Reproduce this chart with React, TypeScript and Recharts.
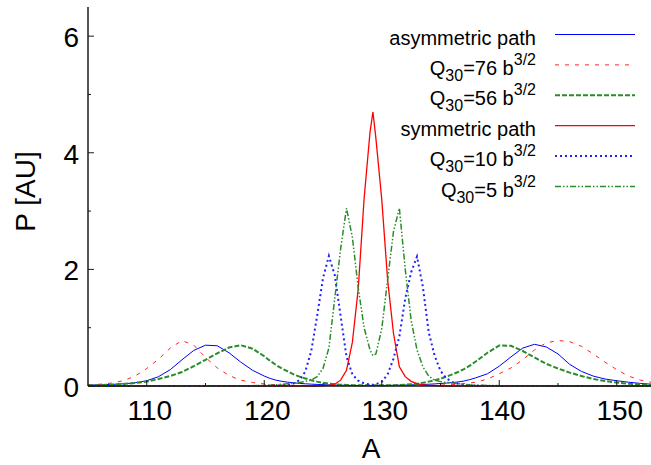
import React from 'react';
import { LineChart, Line, XAxis, YAxis, Legend } from 'recharts';

// Mass number grid (A)
const A = [
  105, 106, 107, 108, 109, 110, 111, 112, 113, 114, 115, 116, 117, 118, 119, 120,
  120.5, 121, 121.5, 122, 122.5, 123, 123.5, 124, 124.5, 125, 125.5, 126, 126.5, 127, 127.5, 128, 128.5, 129,
  129.25,
  129.5, 130, 130.5, 131, 131.5, 132, 132.5, 133, 133.5, 134, 134.5, 135, 135.5, 136, 136.5, 137, 137.5, 138,
  139, 140, 141, 142, 143, 144, 145, 146, 147, 148, 149, 150, 151, 152, 153,
];

// asymmetric path (blue solid)
const asymPath = [
  0.016, 0.02, 0.027, 0.037, 0.055, 0.09, 0.16, 0.28, 0.45, 0.61, 0.70, 0.69, 0.57, 0.41, 0.27, 0.17,
  0.13, 0.10, 0.08, 0.065, 0.055, 0.045, 0.038, 0.032, 0.027, 0.022, 0.019, 0.016, 0.014, 0.012, 0.01, 0.009, 0.008, 0.008,
  0.008,
  0.008, 0.009, 0.01, 0.012, 0.014, 0.016, 0.019, 0.022, 0.026, 0.03, 0.036, 0.043, 0.05, 0.058, 0.07, 0.085, 0.11, 0.14,
  0.21, 0.34, 0.50, 0.65, 0.715, 0.67, 0.55, 0.37, 0.25, 0.17, 0.12, 0.09, 0.065, 0.045, 0.03,
];

// Q30 = 76 b^3/2 (red dashed)
const q76 = [
  0.02, 0.03, 0.05, 0.09, 0.17, 0.30, 0.46, 0.65, 0.78, 0.70, 0.49, 0.31, 0.18, 0.10, 0.06, 0.035,
  0.028, 0.022, 0.018, 0.015, 0.012, 0.01, 0.009, 0.008, 0.007, 0.006, 0.005, 0.005, 0.005, 0.004, 0.004, 0.004, 0.004, 0.004,
  0.004,
  0.004, 0.004, 0.004, 0.005, 0.005, 0.006, 0.007, 0.008, 0.009, 0.011, 0.013, 0.016, 0.02, 0.025, 0.03, 0.04, 0.05, 0.065,
  0.12, 0.21, 0.31, 0.45, 0.62, 0.74, 0.78, 0.76, 0.68, 0.55, 0.41, 0.28, 0.17, 0.10, 0.06,
];

// Q30 = 56 b^3/2 (green dashed)
const q56 = [
  0.01, 0.015, 0.022, 0.035, 0.05, 0.075, 0.12, 0.17, 0.24, 0.34, 0.45, 0.56, 0.66, 0.70, 0.64, 0.51,
  0.43, 0.36, 0.30, 0.25, 0.20, 0.16, 0.13, 0.10, 0.075, 0.055, 0.04, 0.03, 0.022, 0.018, 0.015, 0.013, 0.012, 0.012,
  0.012,
  0.012, 0.012, 0.013, 0.015, 0.018, 0.022, 0.03, 0.04, 0.055, 0.075, 0.10, 0.125, 0.16, 0.20, 0.24, 0.29, 0.35, 0.42,
  0.57, 0.695, 0.69, 0.60, 0.49, 0.38, 0.30, 0.23, 0.17, 0.12, 0.085, 0.06, 0.04, 0.028, 0.02,
];

// symmetric path (red solid)
const symPath = [
  0, 0, 0, 0, 0, 0, 0, 0, 0, 0, 0, 0, 0, 0, 0, 0,
  0, 0, 0, 0, 0, 0, 0, 0, 0, 0.005, 0.01, 0.03, 0.10, 0.27, 0.75, 1.67, 3.22, 4.35,
  4.70,
  4.25, 3.20, 1.82, 0.90, 0.33, 0.16, 0.08, 0.04, 0.02, 0.01, 0.005, 0, 0, 0, 0, 0, 0, 0,
  0, 0, 0, 0, 0, 0, 0, 0, 0, 0, 0, 0, 0, 0, 0,
];

// Q30 = 10 b^3/2 (blue dotted)
const q10 = [
  0, 0, 0, 0, 0, 0, 0, 0, 0, 0, 0, 0, 0, 0, 0.001, 0.002,
  0.003, 0.005, 0.01, 0.02, 0.045, 0.10, 0.25, 0.60, 1.20, 1.85, 2.23, 1.90, 1.20, 0.50, 0.20, 0.09, 0.045, 0.025,
  0.02,
  0.03, 0.07, 0.20, 0.47, 0.85, 1.50, 1.95, 2.22, 1.70, 0.92, 0.52, 0.26, 0.13, 0.07, 0.04, 0.02, 0.01, 0.006,
  0.002, 0.001, 0, 0, 0, 0, 0, 0, 0, 0, 0, 0, 0, 0, 0,
];

// Q30 = 5 b^3/2 (green dash-dot)
const q5 = [
  0, 0, 0, 0, 0, 0, 0, 0, 0, 0, 0, 0, 0, 0.002, 0.005, 0.01,
  0.015, 0.02, 0.03, 0.04, 0.05, 0.06, 0.08, 0.10, 0.16, 0.30, 0.65, 1.50, 2.35, 3.05, 2.55, 1.68, 1.00, 0.62,
  0.52,
  0.55, 0.98, 1.82, 2.65, 3.05, 2.00, 1.13, 0.62, 0.33, 0.17, 0.10, 0.075, 0.06, 0.05, 0.04, 0.03, 0.02, 0.015,
  0.01, 0.005, 0.002, 0, 0, 0, 0, 0, 0, 0, 0, 0, 0, 0, 0,
];

const xTicks = [110, 115, 120, 125, 130, 135, 140, 145, 150];
const xMajor = [110, 120, 130, 140, 150];
const yTicks = [0, 1, 2, 3, 4, 5, 6];
const yMajor = [0, 2, 4, 6];

const data = A.map((a, i) => ({
  A: a,
  asym: asymPath[i],
  q76: q76[i],
  q56: q56[i],
  sym: symPath[i],
  q10: q10[i],
  q5: q5[i],
}));

const FONT = '"Liberation Sans", Arial, Helvetica, sans-serif';
const AXIS = '#1a1a1a';

type Series = {
  key: string;
  name?: string;
  q?: string;
  color: string;
  width: number;
  dash?: string;
};

const series: Series[] = [
  { key: 'asym', name: 'asymmetric path', color: '#0000ff', width: 1 },
  { key: 'q76', q: '76', color: '#ff2020', width: 1, dash: '4 6' },
  { key: 'q56', q: '56', color: '#2a8c2a', width: 2, dash: '5 2' },
  { key: 'sym', name: 'symmetric path', color: '#ff0000', width: 1.3 },
  { key: 'q10', q: '10', color: '#2020ff', width: 2, dash: '2 3' },
  { key: 'q5', q: '5', color: '#2a8c2a', width: 1.5, dash: '6 2 1.5 2 1.5 2' },
];

const BottomTick = (props: any) => {
  const { x, y, payload } = props;
  const v = payload.value;
  const major = xMajor.includes(v);
  return (
    <g>
      <line x1={x} x2={x} y1={y} y2={y - (major ? 6 : 3)} stroke={AXIS} strokeWidth={1} />
      {major && (
        <text x={x + 3} y={y + 34} textAnchor="middle" fontFamily={FONT} fontSize={28} fill="#000">
          {v}
        </text>
      )}
    </g>
  );
};

const TopTick = (props: any) => {
  const { x, y, payload } = props;
  const major = xMajor.includes(payload.value);
  return <line x1={x} x2={x} y1={y} y2={y + (major ? 6 : 3)} stroke={AXIS} strokeWidth={1} />;
};

const LeftTick = (props: any) => {
  const { x, y, payload } = props;
  const v = payload.value;
  const major = yMajor.includes(v);
  return (
    <g>
      <line x1={x} x2={x + (major ? 6 : 3)} y1={y} y2={y} stroke={AXIS} strokeWidth={1} />
      {major && (
        <text x={x - 9} y={y + 11} textAnchor="end" fontFamily={FONT} fontSize={28} fill="#000">
          {v}
        </text>
      )}
    </g>
  );
};

const RightTick = (props: any) => {
  const { x, y, payload } = props;
  const major = yMajor.includes(payload.value);
  return <line x1={x} x2={x - (major ? 6 : 3)} y1={y} y2={y} stroke={AXIS} strokeWidth={1} />;
};

const renderLegend = () => (
  <svg width={651} height={210} style={{ display: 'block' }}>
    {series.map((s, i) => {
      const ly = 34.5 + i * 30.4;
      return (
        <g key={s.key}>
          <text x={536} y={ly + 10} textAnchor="end" fontFamily={FONT} fontSize={20} fill="#000">
            {s.q ? (
              <>
                <tspan>Q</tspan>
                <tspan fontSize={16} dy={6}>30</tspan>
                <tspan dy={-6}>{`=${s.q} b`}</tspan>
                <tspan fontSize={16} dy={-10}>3/2</tspan>
              </>
            ) : (
              s.name
            )}
          </text>
          <line x1={555} x2={635} y1={ly} y2={ly} stroke={s.color} strokeWidth={s.width} strokeDasharray={s.dash} />
        </g>
      );
    })}
  </svg>
);

const XLabel = (p: any) => {
  const vb = p.viewBox || { x: 88, y: 386, width: 564, height: 79 };
  return (
    <text x={vb.x + vb.width / 2 + 1} y={vb.y + 72} textAnchor="middle" fontFamily={FONT} fontSize={28} fill="#000">
      A
    </text>
  );
};

const YLabel = (p: any) => {
  const vb = p.viewBox || { x: 0, y: 7, width: 88, height: 379 };
  const cx = vb.x + 35;
  const cy = vb.y + vb.height / 2 - 5;
  return (
    <text x={cx} y={cy} transform={`rotate(-90 ${cx} ${cy})`} textAnchor="middle" fontFamily={FONT} fontSize={28} fill="#000">
      P [AU]
    </text>
  );
};

export default function App() {
  return (
    <div style={{ position: 'absolute', left: 0, top: 0, width: 651, height: 465, overflow: 'hidden', background: '#fff' }}>
      <LineChart width={660} height={465} data={data} margin={{ top: 7, right: 8, bottom: 0, left: 0 }}>
        <XAxis
          xAxisId="b"
          dataKey="A"
          type="number"
          domain={[105, 153]}
          ticks={xTicks}
          interval={0}
          height={79}
          tickSize={0}
          tickMargin={0}
          tickLine={false}
          axisLine={{ stroke: AXIS, strokeWidth: 1.5 }}
          tick={<BottomTick />}
          label={<XLabel />}
        />
        <XAxis
          xAxisId="t"
          orientation="top"
          dataKey="A"
          type="number"
          domain={[105, 153]}
          ticks={xTicks}
          interval={0}
          height={0}
          tickSize={0}
          tickMargin={0}
          tickLine={false}
          axisLine={{ stroke: AXIS, strokeWidth: 1.5 }}
          tick={<TopTick />}
        />
        <YAxis
          yAxisId="l"
          type="number"
          domain={[0, 6.5]}
          ticks={yTicks}
          interval={0}
          width={88}
          tickSize={0}
          tickMargin={0}
          tickLine={false}
          axisLine={{ stroke: AXIS, strokeWidth: 1.5 }}
          tick={<LeftTick />}
          label={<YLabel />}
        />
        <YAxis
          yAxisId="r"
          orientation="right"
          type="number"
          domain={[0, 6.5]}
          ticks={yTicks}
          interval={0}
          width={0}
          tickSize={0}
          tickMargin={0}
          tickLine={false}
          axisLine={{ stroke: AXIS, strokeWidth: 1.5 }}
          tick={<RightTick />}
        />
        <Legend
          content={renderLegend}
          layout="horizontal"
          verticalAlign="middle"
          align="center"
          wrapperStyle={{ position: 'absolute', left: 0, top: 0, width: 651, height: 210 }}
        />
        {series.map((s) => (
          <Line
            key={s.key}
            xAxisId="b"
            yAxisId="l"
            type="linear"
            dataKey={s.key}
            name={s.name || `Q30=${s.q} b3/2`}
            stroke={s.color}
            strokeWidth={s.width}
            strokeDasharray={s.dash}
            dot={false}
            activeDot={false}
            isAnimationActive={false}
          />
        ))}
      </LineChart>
    </div>
  );
}
